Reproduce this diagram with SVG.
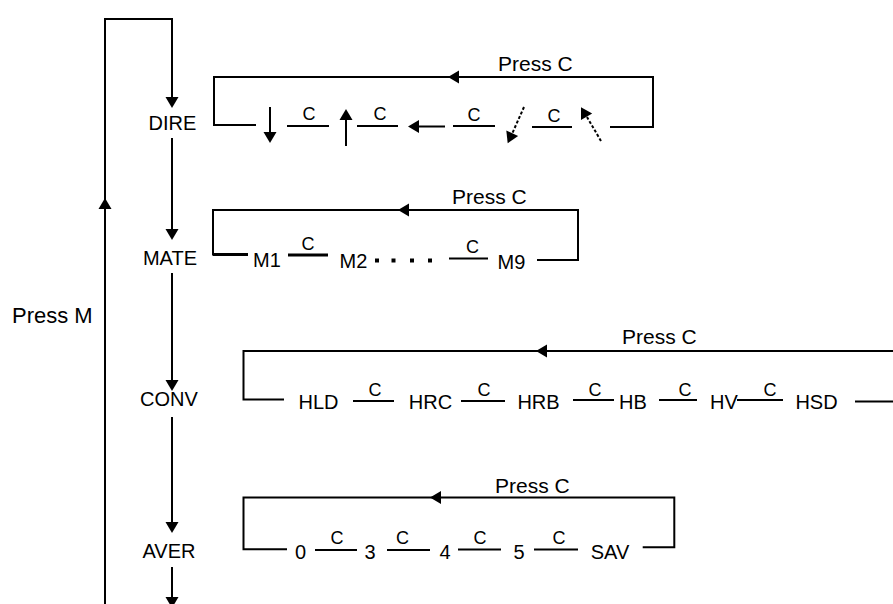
<svg xmlns="http://www.w3.org/2000/svg" width="893" height="604" viewBox="0 0 893 604">
<defs>
<style>
.ln{fill:none;stroke:#000;stroke-width:2}
.tk{stroke-width:3}
.ds{stroke-dasharray:3 2}
text{font-family:"Liberation Sans",Arial,sans-serif;fill:#000}
.lb{font-size:20px;text-anchor:middle}
.c{font-size:18px;text-anchor:middle}
.pc{font-size:21px}
.pm{font-size:22px}
use,.dot{fill:#000}
</style>
<path id="ah" d="M0,0 L-6.5,-11 L6.5,-11 Z"/>
</defs>
<rect width="893" height="604" fill="#fff"/>

<g id="connectors">
  <!-- Press M loop -->
  <path class="ln" d="M105,604 V19 H172 V98"/>
  <use href="#ah" transform="translate(172,108)"/>
  <use href="#ah" transform="translate(105,198) rotate(180)"/>
  <text class="pm" x="12" y="323">Press M</text>
  <!-- main vertical -->
  <path class="ln" d="M172,138 V230"/>
  <use href="#ah" transform="translate(172,240)"/>
  <path class="ln" d="M172,273 V381"/>
  <use href="#ah" transform="translate(172,391)"/>
  <path class="ln" d="M172,417 V523"/>
  <use href="#ah" transform="translate(172,533)"/>
  <path class="ln" d="M172,567 V598"/>
  <use href="#ah" transform="translate(172,608)"/>

  <!-- DIRE cycle -->
  <path class="ln" d="M256,125 H214 V77 H653 V127 H610"/>
  <use href="#ah" transform="translate(448,77) rotate(90)"/>
  <text class="pc" x="498" y="71">Press C</text>
  <path class="ln" d="M287,126 H329"/>
  <text class="c" x="309" y="120">C</text>
  <path class="ln" d="M357,126 H398"/>
  <text class="c" x="380" y="120">C</text>
  <path class="ln" d="M453,126 H495"/>
  <text class="c" x="474" y="121">C</text>
  <path class="ln" d="M532,127 H572"/>
  <text class="c" x="554" y="122">C</text>

  <!-- MATE cycle -->
  <path class="ln" d="M248,254.5 H213 V210 H578 V260 H537"/>
  <path class="ln tk" d="M213,254.5 H248"/>
  <use href="#ah" transform="translate(398,210) rotate(90)"/>
  <text class="pc" x="452" y="204">Press C</text>
  <path class="ln tk" d="M288,255 H328"/>
  <text class="c" x="308" y="250">C</text>
  <path class="ln" d="M449,258.5 H488"/>
  <text class="c" x="472.5" y="253">C</text>

  <!-- CONV cycle -->
  <path class="ln" d="M284,399.5 H243.5 V351 H893"/>
  <path class="ln" d="M855,401.5 H893"/>
  <use href="#ah" transform="translate(536,351) rotate(90)"/>
  <text class="pc" x="622" y="344">Press C</text>
  <path class="ln" d="M353,401 H394"/>
  <text class="c" x="375" y="396">C</text>
  <path class="ln" d="M461,401 H505"/>
  <text class="c" x="484" y="396">C</text>
  <path class="ln" d="M573,400 H614"/>
  <text class="c" x="595" y="396">C</text>
  <path class="ln" d="M659,400 H697"/>
  <text class="c" x="685" y="396">C</text>
  <path class="ln" d="M737,400 H783"/>
  <text class="c" x="770" y="396">C</text>

  <!-- AVER cycle -->
  <path class="ln" d="M287,549.3 H243.5 V497.5 H674.3 V547.3 H642.7"/>
  <use href="#ah" transform="translate(430,497.5) rotate(90)"/>
  <text class="pc" x="495" y="493">Press C</text>
  <path class="ln" d="M315,550 H357"/>
  <text class="c" x="337" y="544">C</text>
  <path class="ln" d="M387,550 H430"/>
  <text class="c" x="402.5" y="544">C</text>
  <path class="ln" d="M458,549.5 H501"/>
  <text class="c" x="480" y="544">C</text>
  <path class="ln" d="M534,549.5 H578"/>
  <text class="c" x="559" y="544">C</text>
</g>

<g id="DIRE"><text class="lb" x="172.5" y="130">DIRE</text></g>
<g id="MATE"><text class="lb" x="170" y="265">MATE</text></g>
<g id="CONV"><text class="lb" x="169" y="406">CONV</text></g>
<g id="AVER"><text class="lb" x="169" y="558">AVER</text></g>

<g id="dir-down"><path class="ln" d="M270,107 V133"/><use href="#ah" transform="translate(270,143)"/></g>
<g id="dir-up"><path class="ln" d="M346,146 V119"/><use href="#ah" transform="translate(346,109) rotate(180)"/></g>
<g id="dir-left"><path class="ln" d="M445,126.5 H418"/><use href="#ah" transform="translate(408,126.5) rotate(90)"/></g>
<g id="dir-downleft"><path class="ln ds" d="M524,107 L512,134"/><use href="#ah" transform="translate(507.7,143.3) rotate(24.3)"/></g>
<g id="dir-upleft"><path class="ln ds" d="M601,141 L587,117"/><use href="#ah" transform="translate(581,107.3) rotate(149.5)"/></g>

<g id="M1"><text class="lb" x="267" y="267">M1</text></g>
<g id="M2"><text class="lb" x="353.5" y="267.5">M2</text></g>
<g id="dots">
  <rect class="dot" x="375" y="258.5" width="4" height="4"/>
  <rect class="dot" x="391.5" y="258.5" width="4" height="4"/>
  <rect class="dot" x="410" y="258.5" width="4" height="4"/>
  <rect class="dot" x="428" y="258.5" width="4" height="4"/>
</g>
<g id="M9"><text class="lb" x="511.5" y="269">M9</text></g>

<g id="HLD"><text class="lb" x="318.5" y="409">HLD</text></g>
<g id="HRC"><text class="lb" x="430.5" y="409">HRC</text></g>
<g id="HRB"><text class="lb" x="538.5" y="409">HRB</text></g>
<g id="HB"><text class="lb" x="633" y="409">HB</text></g>
<g id="HV"><text class="lb" x="724" y="409">HV</text></g>
<g id="HSD"><text class="lb" x="816.5" y="409">HSD</text></g>

<g id="A0"><text class="lb" x="300.5" y="558.5">0</text></g>
<g id="A3"><text class="lb" x="370" y="558.5">3</text></g>
<g id="A4"><text class="lb" x="445" y="558.5">4</text></g>
<g id="A5"><text class="lb" x="519" y="558.5">5</text></g>
<g id="SAV"><text class="lb" x="610" y="558.5">SAV</text></g>
</svg>
